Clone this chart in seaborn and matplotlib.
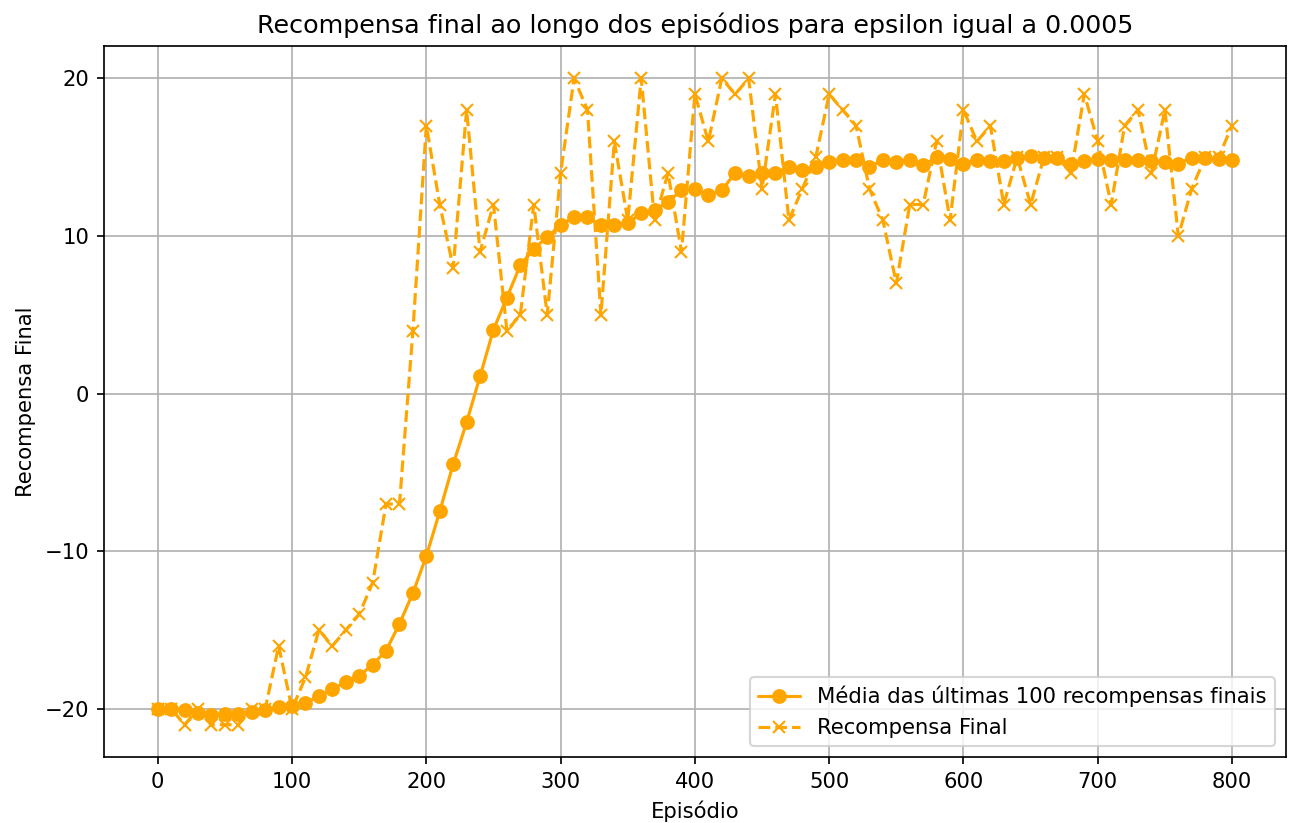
import numpy as np
import pandas as pd
import matplotlib
matplotlib.use("Agg")
import matplotlib.pyplot as plt
import seaborn as sns

episodes = list(range(0, 801, 10))

media_100 = [
    -20.0, -20.0, -20.07, -20.27, -20.4, -20.3, -20.3, -20.17, -20.05, -19.9,
    -19.8, -19.6, -19.2, -18.75, -18.3, -17.9, -17.2, -16.3, -14.6, -12.65,
    -10.3, -7.47, -4.47, -1.82, 1.1, 4.06, 6.1, 8.15, 9.2, 9.92,
    10.7, 11.2, 11.2, 10.7, 10.7, 10.8, 11.47, 11.64, 12.17, 12.9,
    13.0, 12.6, 12.9, 14.0, 13.8, 14.0, 14.0, 14.4, 14.2, 14.4,
    14.7, 14.8, 14.8, 14.4, 14.8, 14.7, 14.8, 14.5, 15.0, 14.88,
    14.54, 14.85, 14.75, 14.75, 14.96, 15.07, 14.96, 14.96, 14.54, 14.75,
    14.9, 14.85, 14.85, 14.85, 14.75, 14.7, 14.6, 14.96, 14.96, 14.9,
    14.85,
]

recompensa_final = [
    -20, -20, -21, -20, -21, -21, -21, -20, -20, -16,
    -20, -18, -15, -16, -15, -14, -12, -7, -7, 4,
    17, 12, 8, 18, 9, 12, 4, 5, 12, 5,
    14, 20, 18, 5, 16, 11, 20, 11, 14, 9,
    19, 16, 20, 19, 20, 13, 19, 11, 13, 15,
    19, 18, 17, 13, 11, 7, 12, 12, 16, 11,
    18, 16, 17, 12, 15, 12, 15, 15, 14, 19,
    16, 12, 17, 18, 14, 18, 10, 13, 15, 15,
    17,
]

df = pd.DataFrame({"Episodio": episodes, "Media": media_100, "Final": recompensa_final})

sns.set_style("ticks")
plt.rcParams["font.family"] = ["DejaVu Sans"]
plt.rcParams["text.color"] = "black"
plt.rcParams["axes.labelcolor"] = "black"

DPI = 152
fig = plt.figure(figsize=(1304 / DPI, 823 / DPI), dpi=DPI)
ax = fig.add_axes([0.0798, 0.0802, 0.9062, 0.8638])

color = "#FFA500"
sns.lineplot(data=df, x="Episodio", y="Media", ax=ax, color=color, marker="o",
             markersize=6, markeredgecolor=color, markeredgewidth=1, linewidth=1.5,
             label="Média das últimas 100 recompensas finais")
sns.lineplot(data=df, x="Episodio", y="Final", ax=ax, color=color, marker="x",
             linestyle="--", markersize=6, markeredgecolor=color, markeredgewidth=1,
             linewidth=1.5, label="Recompensa Final")

ax.set_xlim(-40, 840)
ax.set_ylim(-23.05, 22.05)
ax.set_xticks(range(0, 801, 100))
ax.set_yticks([-20, -10, 0, 10, 20])
ax.grid(True, color="#b0b0b0", linewidth=0.8)
for s in ax.spines.values():
    s.set_visible(True)
    s.set_color("black")
    s.set_linewidth(0.8)
ax.tick_params(direction="out", length=3.5, width=0.8, labelsize=10, colors="black")
ax.set_title("Recompensa final ao longo dos episódios para epsilon igual a 0.0005",
             fontsize=12, color="black")
ax.set_xlabel("Episódio", fontsize=10, color="black")
ax.set_ylabel("Recompensa Final", fontsize=10, color="black")
leg = ax.legend(loc="lower right", fontsize=10, frameon=True)
for t in leg.get_texts():
    t.set_color("black")

fig.savefig("out.png", dpi=DPI)
